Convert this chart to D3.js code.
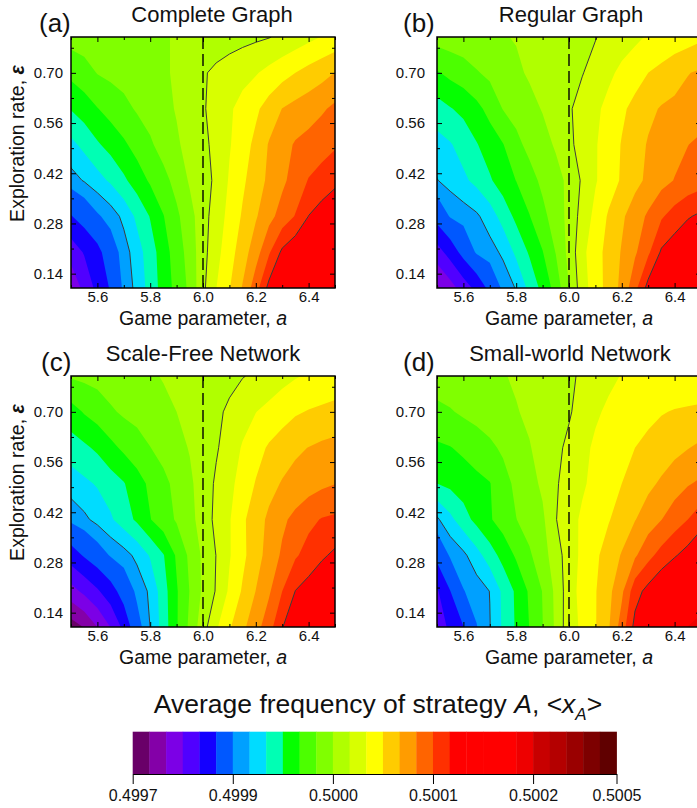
<!DOCTYPE html>
<html>
<head>
<meta charset="utf-8">
<title>Average frequency of strategy A</title>
<style>
  body { margin: 0; background: #fff; }
  svg { display: block; font-family: "Liberation Sans", Arial, sans-serif; }
</style>
</head>
<body>
<svg width="697" height="808"></svg>
<script src="https://cdn.jsdelivr.net/npm/d3@7/dist/d3.min.js"></script>
<script>
// grid positions (columns = game parameter a, rows = exploration rate eps, bottom row first)
var aValues = [5.50, 5.55, 5.60, 5.65, 5.70, 5.75, 5.80, 5.85, 5.90, 5.95, 6.00,
               6.05, 6.10, 6.15, 6.20, 6.25, 6.30, 6.35, 6.40, 6.45, 6.50];
var epsValues = [0.10, 0.20, 0.30, 0.40, 0.50, 0.60, 0.70, 0.80];

// <x_A>
var completeGraph = [
  [0.499773, 0.499810, 0.499843, 0.499870, 0.499905, 0.499922, 0.499940, 0.499957, 0.499972, 0.499987, 0.500013, 0.500033, 0.500049, 0.500068, 0.500093, 0.500122, 0.500136, 0.500150, 0.500163, 0.500178, 0.500187],
  [0.499814, 0.499836, 0.499857, 0.499886, 0.499909, 0.499926, 0.499942, 0.499959, 0.499975, 0.499990, 0.500011, 0.500028, 0.500043, 0.500059, 0.500076, 0.500098, 0.500120, 0.500130, 0.500139, 0.500149, 0.500158],
  [0.499865, 0.499881, 0.499897, 0.499908, 0.499921, 0.499937, 0.499951, 0.499966, 0.499980, 0.499994, 0.500010, 0.500025, 0.500038, 0.500052, 0.500065, 0.500078, 0.500090, 0.500101, 0.500117, 0.500125, 0.500133],
  [0.499910, 0.499918, 0.499927, 0.499936, 0.499947, 0.499958, 0.499969, 0.499978, 0.499989, 0.500002, 0.500010, 0.500020, 0.500035, 0.500047, 0.500059, 0.500070, 0.500080, 0.500090, 0.500101, 0.500106, 0.500112],
  [0.499929, 0.499938, 0.499948, 0.499956, 0.499964, 0.499973, 0.499981, 0.499990, 0.499998, 0.500005, 0.500013, 0.500021, 0.500032, 0.500043, 0.500054, 0.500068, 0.500077, 0.500085, 0.500089, 0.500094, 0.500098],
  [0.499951, 0.499958, 0.499966, 0.499973, 0.499979, 0.499985, 0.499990, 0.499996, 0.500001, 0.500008, 0.500015, 0.500023, 0.500031, 0.500039, 0.500047, 0.500057, 0.500067, 0.500072, 0.500076, 0.500081, 0.500087],
  [0.499971, 0.499977, 0.499984, 0.499987, 0.499989, 0.499992, 0.499995, 0.499998, 0.500002, 0.500008, 0.500015, 0.500020, 0.500024, 0.500028, 0.500032, 0.500038, 0.500044, 0.500050, 0.500056, 0.500061, 0.500067],
  [0.499990, 0.499991, 0.499993, 0.499994, 0.499995, 0.499997, 0.499998, 0.499999, 0.500001, 0.500003, 0.500005, 0.500008, 0.500010, 0.500012, 0.500014, 0.500016, 0.500020, 0.500024, 0.500029, 0.500034, 0.500038]
];
var regularGraph = [
  [0.499760, 0.499786, 0.499816, 0.499843, 0.499876, 0.499905, 0.499918, 0.499938, 0.499955, 0.499973, 0.500000, 0.500026, 0.500042, 0.500056, 0.500071, 0.500095, 0.500123, 0.500136, 0.500149, 0.500162, 0.500175],
  [0.499819, 0.499847, 0.499878, 0.499903, 0.499910, 0.499920, 0.499937, 0.499952, 0.499966, 0.499984, 0.500005, 0.500029, 0.500043, 0.500056, 0.500068, 0.500081, 0.500097, 0.500119, 0.500127, 0.500134, 0.500142],
  [0.499880, 0.499902, 0.499908, 0.499914, 0.499925, 0.499940, 0.499954, 0.499966, 0.499979, 0.499991, 0.500005, 0.500023, 0.500038, 0.500052, 0.500064, 0.500075, 0.500086, 0.500098, 0.500107, 0.500115, 0.500120],
  [0.499916, 0.499923, 0.499930, 0.499938, 0.499948, 0.499958, 0.499967, 0.499977, 0.499987, 0.499994, 0.500004, 0.500019, 0.500032, 0.500042, 0.500052, 0.500062, 0.500070, 0.500078, 0.500084, 0.500089, 0.500093],
  [0.499927, 0.499932, 0.499940, 0.499949, 0.499958, 0.499966, 0.499979, 0.499988, 0.499994, 0.500002, 0.500013, 0.500023, 0.500032, 0.500041, 0.500051, 0.500060, 0.500068, 0.500073, 0.500078, 0.500083, 0.500087],
  [0.499943, 0.499949, 0.499954, 0.499962, 0.499972, 0.499984, 0.499989, 0.499995, 0.500001, 0.500008, 0.500015, 0.500022, 0.500030, 0.500038, 0.500047, 0.500055, 0.500063, 0.500068, 0.500070, 0.500073, 0.500075],
  [0.499965, 0.499971, 0.499976, 0.499982, 0.499987, 0.499992, 0.499997, 0.500002, 0.500005, 0.500009, 0.500012, 0.500016, 0.500022, 0.500030, 0.500037, 0.500043, 0.500050, 0.500055, 0.500061, 0.500066, 0.500069],
  [0.499990, 0.499992, 0.499993, 0.499995, 0.499997, 0.499999, 0.500001, 0.500004, 0.500006, 0.500009, 0.500012, 0.500014, 0.500016, 0.500021, 0.500026, 0.500030, 0.500035, 0.500037, 0.500040, 0.500043, 0.500047]
];
var scaleFreeNetwork = [
  [0.499717, 0.499735, 0.499767, 0.499801, 0.499843, 0.499890, 0.499917, 0.499941, 0.499965, 0.499987, 0.500010, 0.500031, 0.500048, 0.500063, 0.500077, 0.500093, 0.500116, 0.500127, 0.500138, 0.500148, 0.500158],
  [0.499787, 0.499808, 0.499829, 0.499853, 0.499881, 0.499905, 0.499920, 0.499943, 0.499965, 0.499984, 0.500003, 0.500018, 0.500036, 0.500052, 0.500067, 0.500081, 0.500100, 0.500117, 0.500124, 0.500131, 0.500138],
  [0.499851, 0.499870, 0.499887, 0.499902, 0.499910, 0.499921, 0.499935, 0.499949, 0.499969, 0.499987, 0.500003, 0.500017, 0.500032, 0.500046, 0.500060, 0.500073, 0.500086, 0.500098, 0.500106, 0.500114, 0.500120],
  [0.499905, 0.499913, 0.499922, 0.499931, 0.499942, 0.499953, 0.499966, 0.499976, 0.499985, 0.499995, 0.500007, 0.500021, 0.500032, 0.500047, 0.500059, 0.500070, 0.500080, 0.500088, 0.500096, 0.500101, 0.500103],
  [0.499925, 0.499930, 0.499935, 0.499942, 0.499949, 0.499960, 0.499970, 0.499979, 0.499988, 0.499997, 0.500008, 0.500019, 0.500029, 0.500040, 0.500051, 0.500061, 0.500068, 0.500072, 0.500076, 0.500080, 0.500083],
  [0.499942, 0.499947, 0.499953, 0.499962, 0.499970, 0.499976, 0.499983, 0.499989, 0.499995, 0.500001, 0.500008, 0.500015, 0.500024, 0.500035, 0.500044, 0.500052, 0.500058, 0.500064, 0.500067, 0.500070, 0.500072],
  [0.499960, 0.499968, 0.499974, 0.499981, 0.499986, 0.499989, 0.499993, 0.499996, 0.500000, 0.500005, 0.500009, 0.500014, 0.500019, 0.500026, 0.500033, 0.500038, 0.500043, 0.500048, 0.500051, 0.500053, 0.500055],
  [0.499985, 0.499987, 0.499989, 0.499992, 0.499994, 0.499996, 0.499998, 0.500001, 0.500003, 0.500006, 0.500008, 0.500011, 0.500013, 0.500016, 0.500019, 0.500023, 0.500028, 0.500032, 0.500035, 0.500038, 0.500040]
];
var smallWorldNetwork = [
  [0.499810, 0.499842, 0.499866, 0.499899, 0.499916, 0.499936, 0.499952, 0.499967, 0.499983, 0.500003, 0.500027, 0.500036, 0.500049, 0.500065, 0.500091, 0.500122, 0.500138, 0.500153, 0.500169, 0.500184, 0.500197],
  [0.499829, 0.499866, 0.499899, 0.499908, 0.499917, 0.499937, 0.499953, 0.499969, 0.499984, 0.500004, 0.500026, 0.500039, 0.500049, 0.500062, 0.500080, 0.500110, 0.500122, 0.500133, 0.500141, 0.500150, 0.500158],
  [0.499876, 0.499903, 0.499913, 0.499927, 0.499942, 0.499956, 0.499969, 0.499981, 0.499993, 0.500009, 0.500025, 0.500037, 0.500047, 0.500057, 0.500068, 0.500081, 0.500095, 0.500106, 0.500115, 0.500123, 0.500132],
  [0.499914, 0.499929, 0.499943, 0.499955, 0.499965, 0.499974, 0.499983, 0.499990, 0.499997, 0.500016, 0.500027, 0.500036, 0.500042, 0.500049, 0.500057, 0.500066, 0.500075, 0.500083, 0.500092, 0.500100, 0.500110],
  [0.499950, 0.499954, 0.499958, 0.499962, 0.499966, 0.499977, 0.499987, 0.499994, 0.500003, 0.500015, 0.500023, 0.500031, 0.500038, 0.500044, 0.500050, 0.500057, 0.500063, 0.500069, 0.500076, 0.500082, 0.500086],
  [0.499964, 0.499966, 0.499970, 0.499975, 0.499980, 0.499986, 0.499993, 0.499999, 0.500006, 0.500013, 0.500020, 0.500029, 0.500036, 0.500041, 0.500045, 0.500050, 0.500054, 0.500058, 0.500062, 0.500066, 0.500070],
  [0.499979, 0.499982, 0.499986, 0.499989, 0.499992, 0.499996, 0.499999, 0.500003, 0.500007, 0.500011, 0.500015, 0.500023, 0.500031, 0.500036, 0.500039, 0.500043, 0.500046, 0.500049, 0.500051, 0.500052, 0.500053],
  [0.499992, 0.499993, 0.499995, 0.499996, 0.499998, 0.499999, 0.500002, 0.500005, 0.500008, 0.500011, 0.500014, 0.500019, 0.500024, 0.500030, 0.500034, 0.500035, 0.500036, 0.500037, 0.500038, 0.500039, 0.500040]
];

// axis ticks
var xTicks = [5.6, 5.8, 6.0, 6.2, 6.4];
var xMinorTicks = [5.5, 5.7, 5.9, 6.1, 6.3, 6.5];
var yTicks = [0.14, 0.28, 0.42, 0.56, 0.70];
var yMinorTicks = [0.21, 0.35, 0.49, 0.63, 0.77];

// colour scale: 29 bands, labels sit on band edges
var bandColors = ['#690068', '#8400a8', '#7c00e6', '#5000ff', '#1400ff', '#0058ff', '#00a0ff',
                  '#00dcff', '#00ffb4', '#05ff00', '#4cff00', '#80ff00', '#b0ff00', '#d8ff00',
                  '#ffff00', '#ffcc00', '#ff9c00', '#ff6400', '#ff3000', '#ff0000', '#ff0000',
                  '#ff0000', '#ff0000', '#ee0000', '#c80000', '#b40000', '#9a0000', '#7d0000', '#600000'];
var barTickLevels = [0, 6, 12, 18, 24, 29];
var barTickValues = [0.4997, 0.4999, 0.5000, 0.5001, 0.5002, 0.5005];
var barTickLabels = ['0.4997', '0.4999', '0.5000', '0.5001', '0.5002', '0.5005'];
var lineBands = [7, 13, 19];   // edges drawn as black iso-lines

var panels = [
  {key: 'a', title: 'Complete Graph', data: completeGraph, left: 71, top: 37, titleDx: 9, yTitle: true, lab: -32},
  {key: 'b', title: 'Regular Graph', data: regularGraph, left: 437, top: 37, titleDx: 2, yTitle: false, lab: -34},
  {key: 'c', title: 'Scale-Free Network', data: scaleFreeNetwork, left: 71, top: 376, titleDx: 0, yTitle: true, lab: -30},
  {key: 'd', title: 'Small-world Network', data: smallWorldNetwork, left: 437, top: 376, titleDx: 1, yTitle: false, lab: -34}
];

var W = 264, H = 251;
var svg = d3.select('svg');

var levelToValue = d3.scaleLinear().domain(barTickLevels).range(barTickValues);
var thresholds = bandColors.map(function (c, i) { return levelToValue(i); });
var lineThresholds = lineBands.map(levelToValue);

var x = d3.scaleLinear().domain([5.5, 6.5]).range([0, W]);
var y = d3.scaleLinear().domain([0.1, 0.8]).range([H, 0]);

var nx = aValues.length, ny = epsValues.length;
var da = aValues[1] - aValues[0], de = epsValues[1] - epsValues[0];
// contour grid coords -> data coords (grid value i sits at i + 0.5)
var toPlot = d3.geoTransform({
  point: function (px, py) {
    this.stream.point(x(aValues[0] + (px - 0.5) * da), y(epsValues[0] + (py - 0.5) * de));
  }
});
var path = d3.geoPath(toPlot);

var defs = svg.append('defs');

panels.forEach(function (p) {
  var g = svg.append('g').attr('transform', 'translate(' + p.left + ',' + p.top + ')');
  defs.append('clipPath').attr('id', 'clip-' + p.key)
    .append('rect').attr('width', W).attr('height', H);

  var flat = [].concat.apply([], p.data);
  var bands = d3.contours().size([nx, ny]).thresholds(thresholds)(flat);
  var isolines = d3.contours().size([nx, ny]).thresholds(lineThresholds)(flat);

  var plot = g.append('g').attr('clip-path', 'url(#clip-' + p.key + ')');
  plot.append('rect').attr('width', W).attr('height', H).attr('fill', bandColors[0]);
  plot.selectAll('path.band')
    .data(bands)
    .join('path')
    .attr('class', 'band')
    .attr('d', path)
    .attr('fill', function (d, i) { return bandColors[i]; });
  plot.selectAll('path.iso')
    .data(isolines)
    .join('path')
    .attr('class', 'iso')
    .attr('d', path)
    .attr('fill', 'none')
    .attr('stroke', '#3c3c3c')
    .attr('stroke-width', 1);
  plot.append('line')
    .attr('x1', x(6)).attr('x2', x(6))
    .attr('y1', 0).attr('y2', H)
    .attr('stroke', '#000')
    .attr('stroke-width', 1.4)
    .attr('stroke-dasharray', '12,5');

  function clean(sel) {
    sel.attr('font-size', 15).attr('font-family', null);
    sel.select('.domain').remove();
    sel.selectAll('text').attr('fill', '#111');
  }
  g.append('g').attr('transform', 'translate(0,' + H + ')')
    .call(d3.axisBottom(x).tickValues(xTicks).tickSize(-5).tickPadding(3.5).tickFormat(d3.format('.1f')))
    .call(clean);
  g.append('g').attr('transform', 'translate(0,' + H + ')')
    .call(d3.axisBottom(x).tickValues(xMinorTicks).tickSize(-3).tickFormat(''))
    .call(clean);
  g.append('g')
    .call(d3.axisTop(x).tickValues(xTicks).tickSize(-5).tickFormat(''))
    .call(clean);
  g.append('g')
    .call(d3.axisTop(x).tickValues(xMinorTicks).tickSize(-3).tickFormat(''))
    .call(clean);
  g.append('g')
    .call(d3.axisLeft(y).tickValues(yTicks).tickSize(-5).tickPadding(p.yTitle ? 8 : 12).tickFormat(d3.format('.2f')))
    .call(clean);
  g.append('g')
    .call(d3.axisLeft(y).tickValues(yMinorTicks).tickSize(-3).tickFormat(''))
    .call(clean);
  g.append('g').attr('transform', 'translate(' + W + ',0)')
    .call(d3.axisRight(y).tickValues(yTicks).tickSize(-5).tickFormat(''))
    .call(clean);
  g.append('g').attr('transform', 'translate(' + W + ',0)')
    .call(d3.axisRight(y).tickValues(yMinorTicks).tickSize(-3).tickFormat(''))
    .call(clean);

  g.append('rect').attr('width', W).attr('height', H)
    .attr('fill', 'none').attr('stroke', '#000').attr('stroke-width', 1.5);

  // titles and labels
  g.append('text').attr('x', W / 2 + p.titleDx).attr('y', -15.5)
    .attr('text-anchor', 'middle').attr('font-size', 22).attr('fill', '#111')
    .text(p.title);
  g.append('text').attr('x', p.lab).attr('y', -5)
    .attr('font-size', 26).attr('fill', '#111')
    .text('(' + p.key + ')');
  var xt = g.append('text').attr('x', W / 2).attr('y', H + 36.5)
    .attr('text-anchor', 'middle').attr('font-size', 19.5).attr('fill', '#111');
  xt.append('tspan').text('Game parameter, ');
  xt.append('tspan').attr('font-style', 'italic').text('a');
  if (p.yTitle) {
    var yt = g.append('text')
      .attr('transform', 'translate(-47,' + (H / 2 - 19) + ') rotate(-90)')
      .attr('text-anchor', 'middle').attr('font-size', 19.5).attr('fill', '#111');
    yt.append('tspan').text('Exploration rate, ');
    yt.append('tspan').attr('font-weight', 'bold').attr('font-style', 'italic').text('\u03b5');
  }
});

// colour bar
var cbLeft = 132.7, cbRight = 616.5, cbTop = 731.7, cbBottom = 774;
var cbX = d3.scaleLinear().domain([0, bandColors.length]).range([cbLeft, cbRight]);
var cb = svg.append('g');
cb.selectAll('rect')
  .data(bandColors)
  .join('rect')
  .attr('x', function (d, i) { return cbX(i); })
  .attr('width', function (d, i) { return cbX(i + 1) - cbX(i) + 0.4; })
  .attr('y', cbTop)
  .attr('height', cbBottom - cbTop)
  .attr('fill', function (d) { return d; });
cb.append('g').attr('transform', 'translate(0,' + cbBottom + ')')
  .call(d3.axisBottom(cbX).tickValues(barTickLevels).tickSize(10).tickSizeOuter(0).tickPadding(6)
    .tickFormat(function (d) { return barTickLabels[barTickLevels.indexOf(d)]; }))
  .call(function (sel) {
    sel.attr('font-size', 16).attr('font-family', null);
    sel.selectAll('text').attr('fill', '#111');
  });

var ct = svg.append('text').attr('x', 378).attr('y', 713)
  .attr('text-anchor', 'middle').attr('font-size', 26.5).attr('fill', '#111');
ct.append('tspan').text('Average frequency of strategy ');
ct.append('tspan').attr('font-style', 'italic').text('A');
ct.append('tspan').text(', <');
ct.append('tspan').attr('font-style', 'italic').text('x');
ct.append('tspan').attr('font-style', 'italic').attr('font-size', 17).attr('dy', 7).text('A');
ct.append('tspan').attr('dy', -7).text('>');
</script>
</body>
</html>
